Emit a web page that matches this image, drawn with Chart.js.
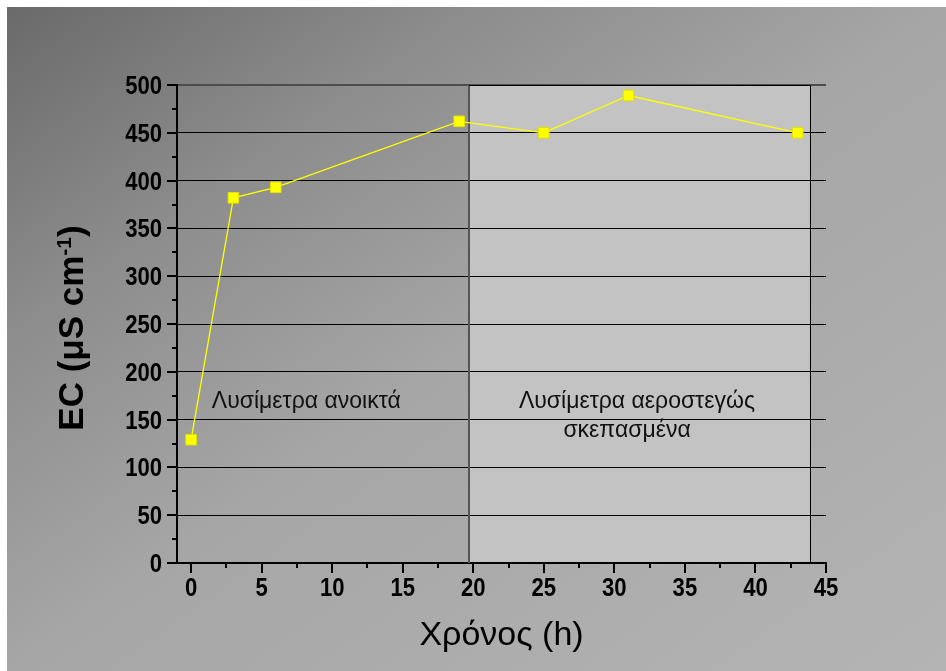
<!DOCTYPE html>
<html>
<head>
<meta charset="utf-8">
<script src="https://cdn.jsdelivr.net/npm/chart.js@4.4.1/dist/chart.umd.min.js"></script>
<style>
  html, body { margin: 0; padding: 0; background: #fff; }
  canvas { display: block; }
</style>
</head>
<body>
<canvas id="chart" width="946" height="671"></canvas>
<script>
// EC of lysimeter leachate over time
const timeH = [0, 3, 6, 19, 25, 31, 43]
const ecValues = [129, 382, 393, 462, 450, 489, 450]
const xTickValues = [0, 5, 10, 15, 20, 25, 30, 35, 40, 45]
const yTickValues = [0, 50, 100, 150, 200, 250, 300, 350, 400, 450, 500]
const coveredPeriod = [19.7, 43.85] // h, lysimeters sealed
const openLabel = "Λυσίμετρα ανοικτά"
const coveredLabel = ["Λυσίμετρα αεροστεγώς", "σκεπασμένα"]

const textFont = "'Liberation Sans', Arial, sans-serif"

// condensed bold tick label, like the original
function drawTickLabel(ctx, text, px, baseline, align) {
  ctx.save()
  ctx.font = `bold 26px ${textFont}`
  ctx.textAlign = align
  ctx.textBaseline = 'alphabetic'
  ctx.translate(px, baseline)
  ctx.scale(0.85, 1)
  ctx.fillText(text, 0, 0)
  ctx.restore()
}

const decor = {
  id: 'decor',
  beforeDraw(chart) {
    const { ctx, width, height, chartArea: a, scales: { x } } = chart
    ctx.save()
    ctx.fillStyle = '#fff'
    ctx.fillRect(0, 0, width, height)
    const g = ctx.createLinearGradient(7, 7, 633, 892)
    g.addColorStop(0, '#6a6a6a')
    g.addColorStop(0.25, '#8d8d8d')
    g.addColorStop(0.5, '#a6a6a6')
    g.addColorStop(1, '#b4b4b4')
    ctx.fillStyle = g
    ctx.fillRect(7, 7, width - 7, height - 7)
    // sealed period box
    const x0 = x.getPixelForValue(coveredPeriod[0])
    const x1 = x.getPixelForValue(coveredPeriod[1])
    ctx.fillStyle = '#c3c3c3'
    ctx.fillRect(x0, a.top, x1 - x0, a.bottom - a.top)
    ctx.restore()
  },
  beforeDatasetsDraw(chart) {
    const { ctx, chartArea: a, scales: { x } } = chart
    const x0 = Math.round(x.getPixelForValue(coveredPeriod[0]))
    const x1 = Math.round(x.getPixelForValue(coveredPeriod[1])) + 0.5
    ctx.save()
    ctx.strokeStyle = '#555'
    ctx.lineWidth = 2
    ctx.beginPath(); ctx.moveTo(x0, a.top); ctx.lineTo(x0, a.bottom); ctx.stroke()
    ctx.strokeStyle = '#000'
    ctx.lineWidth = 1
    ctx.beginPath()
    ctx.moveTo(x0, a.top + 0.5); ctx.lineTo(x1, a.top + 0.5); ctx.lineTo(x1, a.bottom)
    ctx.stroke()
    ctx.restore()
  },
  afterDraw(chart) {
    const { ctx, chartArea: a, scales: { x, y } } = chart
    ctx.save()
    // tick marks (outside)
    ctx.strokeStyle = '#000'
    ctx.lineWidth = 2
    for (let v = 0; v <= 500; v += 25) {
      const py = Math.round(y.getPixelForValue(v))
      const len = v % 50 === 0 ? 10 : 5
      ctx.beginPath(); ctx.moveTo(a.left - len, py); ctx.lineTo(a.left, py); ctx.stroke()
    }
    for (let v = 0; v <= 45; v += 2.5) {
      const px = Math.round(x.getPixelForValue(v))
      const len = v % 5 === 0 ? 10 : 5
      ctx.beginPath(); ctx.moveTo(px, a.bottom); ctx.lineTo(px, a.bottom + len); ctx.stroke()
    }

    // tick labels
    ctx.fillStyle = '#000'
    y.ticks.forEach(t => {
      drawTickLabel(ctx, String(t.value), a.left - 15, y.getPixelForValue(t.value) + 9, 'right')
    })
    x.ticks.forEach(t => {
      drawTickLabel(ctx, String(t.value), x.getPixelForValue(t.value), 596, 'center')
    })

    // x axis title
    ctx.fillStyle = '#000'
    ctx.font = `34px ${textFont}`
    ctx.textAlign = 'center'
    ctx.textBaseline = 'alphabetic'
    ctx.fillText('Χρόνος (h)', (a.left + a.right) / 2, 645)

    // y axis title with superscript
    ctx.save()
    ctx.translate(83, 328)
    ctx.rotate(-Math.PI / 2)
    const big = `bold 35px ${textFont}`
    const small = `bold 21px ${textFont}`
    ctx.textAlign = 'left'
    ctx.font = big
    const w1 = ctx.measureText('EC (μS cm').width
    const w3 = ctx.measureText(')').width
    ctx.font = small
    const w2 = ctx.measureText('-1').width
    let cx = -(w1 + w2 + w3) / 2
    ctx.font = big
    ctx.fillText('EC (μS cm', cx, 0)
    cx += w1
    ctx.font = small
    ctx.fillText('-1', cx, -12)
    cx += w2
    ctx.font = big
    ctx.fillText(')', cx, 0)
    ctx.restore()

    // period labels
    ctx.fillStyle = '#111'
    ctx.font = `23px ${textFont}`
    ctx.textAlign = 'left'
    ctx.fillText(openLabel, x.getPixelForValue(1.47), y.getPixelForValue(162))
    ctx.textAlign = 'center'
    ctx.fillText(coveredLabel[0], x.getPixelForValue(31.6), y.getPixelForValue(162))
    ctx.fillText(coveredLabel[1], x.getPixelForValue(30.9), y.getPixelForValue(132))
    ctx.restore()
  }
}

new Chart(document.getElementById('chart'), {
  type: 'line',
  data: {
    datasets: [{
      label: 'EC',
      data: timeH.map((t, i) => ({ x: t, y: ecValues[i] })),
      borderColor: '#ffff00',
      borderWidth: 1.3,
      pointStyle: 'rect',
      pointRadius: 7.5,
      pointBackgroundColor: '#ffff00',
      pointBorderColor: '#e0e000',
      pointBorderWidth: 1,
      tension: 0
    }]
  },
  options: {
    responsive: false,
    devicePixelRatio: 1,
    animation: false,
    layout: { padding: { left: 0, right: 120, top: 85, bottom: 0 } },
    plugins: { legend: { display: false }, tooltip: { enabled: false } },
    scales: {
      x: {
        type: 'linear',
        min: -1,
        max: 45,
        afterBuildTicks: s => { s.ticks = xTickValues.map(v => ({ value: v })) },
        afterFit: s => { s.height = 108 },
        grid: { display: false },
        border: { display: true, color: '#000', width: 2 },
        ticks: { display: false }
      },
      y: {
        min: 0,
        max: 500,
        afterBuildTicks: s => { s.ticks = yTickValues.map(v => ({ value: v })) },
        afterFit: s => { s.width = 177 },
        grid: {
          drawTicks: false,
          color: c => (c.tick && c.tick.value === 500 ? '#4d4d4d' : '#000'),
          lineWidth: c => (c.tick && c.tick.value === 500 ? 2 : 1)
        },
        border: { display: true, color: '#000', width: 2 },
        ticks: { display: false }
      }
    }
  },
  plugins: [decor]
})
</script>
</body>
</html>
